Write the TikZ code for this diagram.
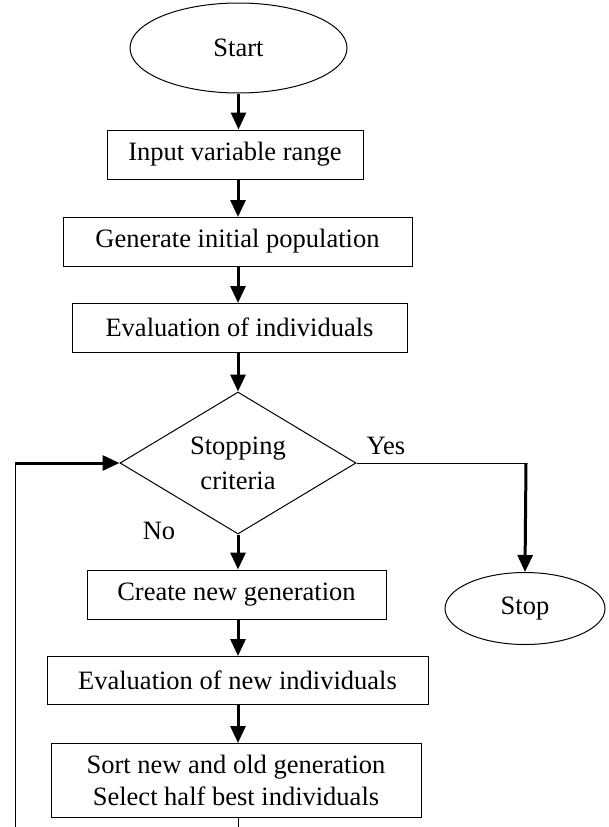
\documentclass[tikz,border=0pt]{standalone}
\usepackage{fontspec}
\setmainfont{Liberation Serif}
\usetikzlibrary{shapes.geometric,arrows.meta}
\begin{document}
\begin{tikzpicture}[x=1pt,y=1pt,
  box/.style={draw,line width=1pt,rectangle,inner sep=0pt,align=center,font=\fontsize{26.5}{32}\selectfont},
  term/.style={draw,line width=1pt,ellipse,inner sep=0pt,font=\fontsize{26.5}{32}\selectfont},
  flow/.style={line width=3pt,-{Triangle[width=15pt,length=17pt]}},
  thin/.style={line width=1pt},
  lbl/.style={inner sep=0pt,font=\fontsize{26.5}{32}\selectfont}]
\useasboundingbox (0,0) rectangle (609,-827);
\node[term,minimum width=217pt,minimum height=90pt] (start) at (238.5,-48) {Start};
\node[box,minimum width=256pt,minimum height=49pt] (input) at (235,-154.5) {Input variable range};
\node[box,minimum width=349pt,minimum height=49pt] (gen) at (237.5,-241.5) {Generate initial population};
\node[box,minimum width=335pt,minimum height=49pt] (eval) at (239.5,-327.5) {Evaluation of individuals};
\node[draw,line width=1pt,diamond,inner sep=0pt,aspect=1.66,minimum width=236pt,minimum height=142pt,align=center,font=\fontsize{26.5}{35}\selectfont] (dia) at (238,-463) {Stopping\\criteria};
\node[box,minimum width=299pt,minimum height=49pt] (create) at (236.5,-594.5) {Create new generation};
\node[box,minimum width=381pt,minimum height=48pt] (evalnew) at (237.5,-680) {Evaluation of new individuals};
\node[box,minimum width=370pt,minimum height=74pt,font=\fontsize{26.5}{32}\selectfont] (sort) at (236,-780) {Sort new and old generation\\Select half best individuals};
\node[term,minimum width=160pt,minimum height=72pt] (stop) at (525,-608.5) {Stop};
\node[lbl] (yes) at (386,-446) {Yes};
\node[lbl] (no) at (159,-531) {No};
\coordinate (yesc) at (526,-463);
\coordinate (loopc) at (15,-463);
\coordinate (loopb) at (15,-827);
\coordinate (bot) at (238,-827);
\draw[flow] (start.south) -- (start.south |- input.north);
\draw[flow] (238,-179) -- (238,-217);
\draw[flow] (238,-266) -- (238,-303);
\draw[flow] (238,-352) -- (dia.north);
\draw[flow] (dia.south) -- (dia.south |- create.north);
\draw[flow] (238,-619) -- (238,-656);
\draw[flow] (238,-704) -- (238,-743);
\draw[thin] (dia.east) -- (yesc);
\draw[flow] (yesc) -- (stop.north);
\draw[thin] (loopb) -- (loopc);
\draw[flow] (loopc) -- (dia.west);
\draw[thin] (sort.south -| bot) -- (bot);
\end{tikzpicture}
\end{document}
